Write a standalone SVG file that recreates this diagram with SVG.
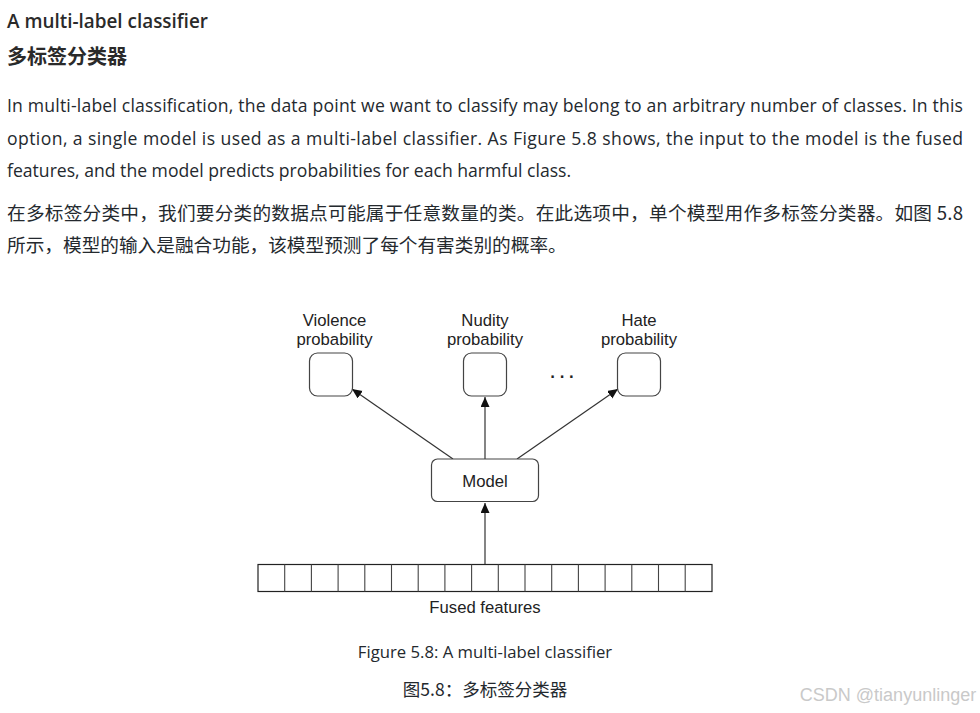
<svg xmlns="http://www.w3.org/2000/svg" width="980" height="713" viewBox="0 0 980 713">
<style>
.t{font-family:"Open Sans","Noto Sans CJK SC",sans-serif;font-size:17.6px;fill:#24292e}
.c{font-family:"Noto Sans CJK SC","Noto Sans",sans-serif;font-size:18.67px;fill:#24292e}
.h{font-weight:600;fill:#2a2a2a}
.d{font-family:"Liberation Sans",Arial,sans-serif;font-size:16.7px;fill:#222;text-anchor:middle}
.n{fill:#fff;stroke:#444;stroke-width:1.2}
.e{stroke:#333;stroke-width:1.2;fill:none;marker-end:url(#a)}
.m{text-anchor:middle}
</style>
<defs><marker id="a" markerUnits="userSpaceOnUse" markerWidth="11" markerHeight="11" refX="10" refY="4.5" orient="auto"><path d="M0 0L10 4.5L0 9Z" fill="#111"/></marker></defs>
<rect width="980" height="713" fill="#fff"/>
<g id="text">
<text class="t h" x="7" y="28" style="font-size:18.9px">A multi-label classifier</text>
<text class="c h" x="7" y="64" style="font-size:20px;font-weight:700">多标签分类器</text>
<text class="t" x="7" y="112" textLength="956" lengthAdjust="spacing">In multi-label classification, the data point we want to classify may belong to an arbitrary number of classes. In this</text>
<text class="t" x="7" y="145" textLength="956" lengthAdjust="spacing">option, a single model is used as a multi-label classifier. As Figure 5.8 shows, the input to the model is the fused</text>
<text class="t" x="7" y="177">features, and the model predicts probabilities for each harmful class.</text>
<text class="c" x="7" y="220" textLength="956" lengthAdjust="spacing">在多标签分类中，我们要分类的数据点可能属于任意数量的类。在此选项中，单个模型用作多标签分类器。如图 5.8</text>
<text class="c" x="7" y="252">所示，模型的输入是融合功能，该模型预测了每个有害类别的概率。</text>
</g>
<g id="connectors">
<line class="e" x1="453" y1="459" x2="352" y2="389"/>
<line class="e" x1="485" y1="459" x2="485" y2="397"/>
<line class="e" x1="517" y1="459" x2="618" y2="389"/>
<line class="e" x1="485" y1="564" x2="485" y2="503"/>
</g>
<g id="violence"><text class="d" x="334.500" y="325.500">Violence</text><text class="d" x="334.500" y="344.500">probability</text><rect class="n" x="309.500" y="353" width="43" height="43" rx="8"/></g>
<g id="nudity"><text class="d" x="485" y="325.500">Nudity</text><text class="d" x="485" y="344.500">probability</text><rect class="n" x="463.500" y="353" width="43" height="43" rx="8"/></g>
<g id="dots"><text class="d" x="563.400" y="378" style="font-size:24px;letter-spacing:2.8px">...</text></g>
<g id="hate"><text class="d" x="639" y="325.500">Hate</text><text class="d" x="639" y="344.500">probability</text><rect class="n" x="617.500" y="353" width="43" height="43" rx="8"/></g>
<g id="model"><rect class="n" x="431.500" y="459" width="107" height="42.500" rx="6"/><text class="d" x="485" y="486.500">Model</text></g>
<g id="features">
<rect x="258" y="564.500" width="454" height="27" fill="#fff" stroke="#222" stroke-width="1.2"/>
<path d="M284.700 564.500v27M311.400 564.500v27M338.100 564.500v27M364.800 564.500v27M391.500 564.500v27M418.200 564.500v27M444.900 564.500v27M471.600 564.500v27M498.300 564.500v27M525 564.500v27M551.700 564.500v27M578.400 564.500v27M605.100 564.500v27M631.800 564.500v27M658.500 564.500v27M685.200 564.500v27" fill="none" stroke="#444" stroke-width="1.1"/>
<text class="d" x="485" y="612.500">Fused features</text>
</g>
<g id="caption">
<text class="t m" x="485" y="657.500" style="font-size:16.7px">Figure 5.8: A multi-label classifier</text>
<text class="c m" x="485" y="695.500" style="font-size:17.5px">图5.8：多标签分类器</text>
</g>
<text x="888" y="701" text-anchor="middle" font-family="Liberation Sans,Arial,sans-serif" font-size="18" fill="#c9c9c9">CSDN @tianyunlinger</text>
</svg>
